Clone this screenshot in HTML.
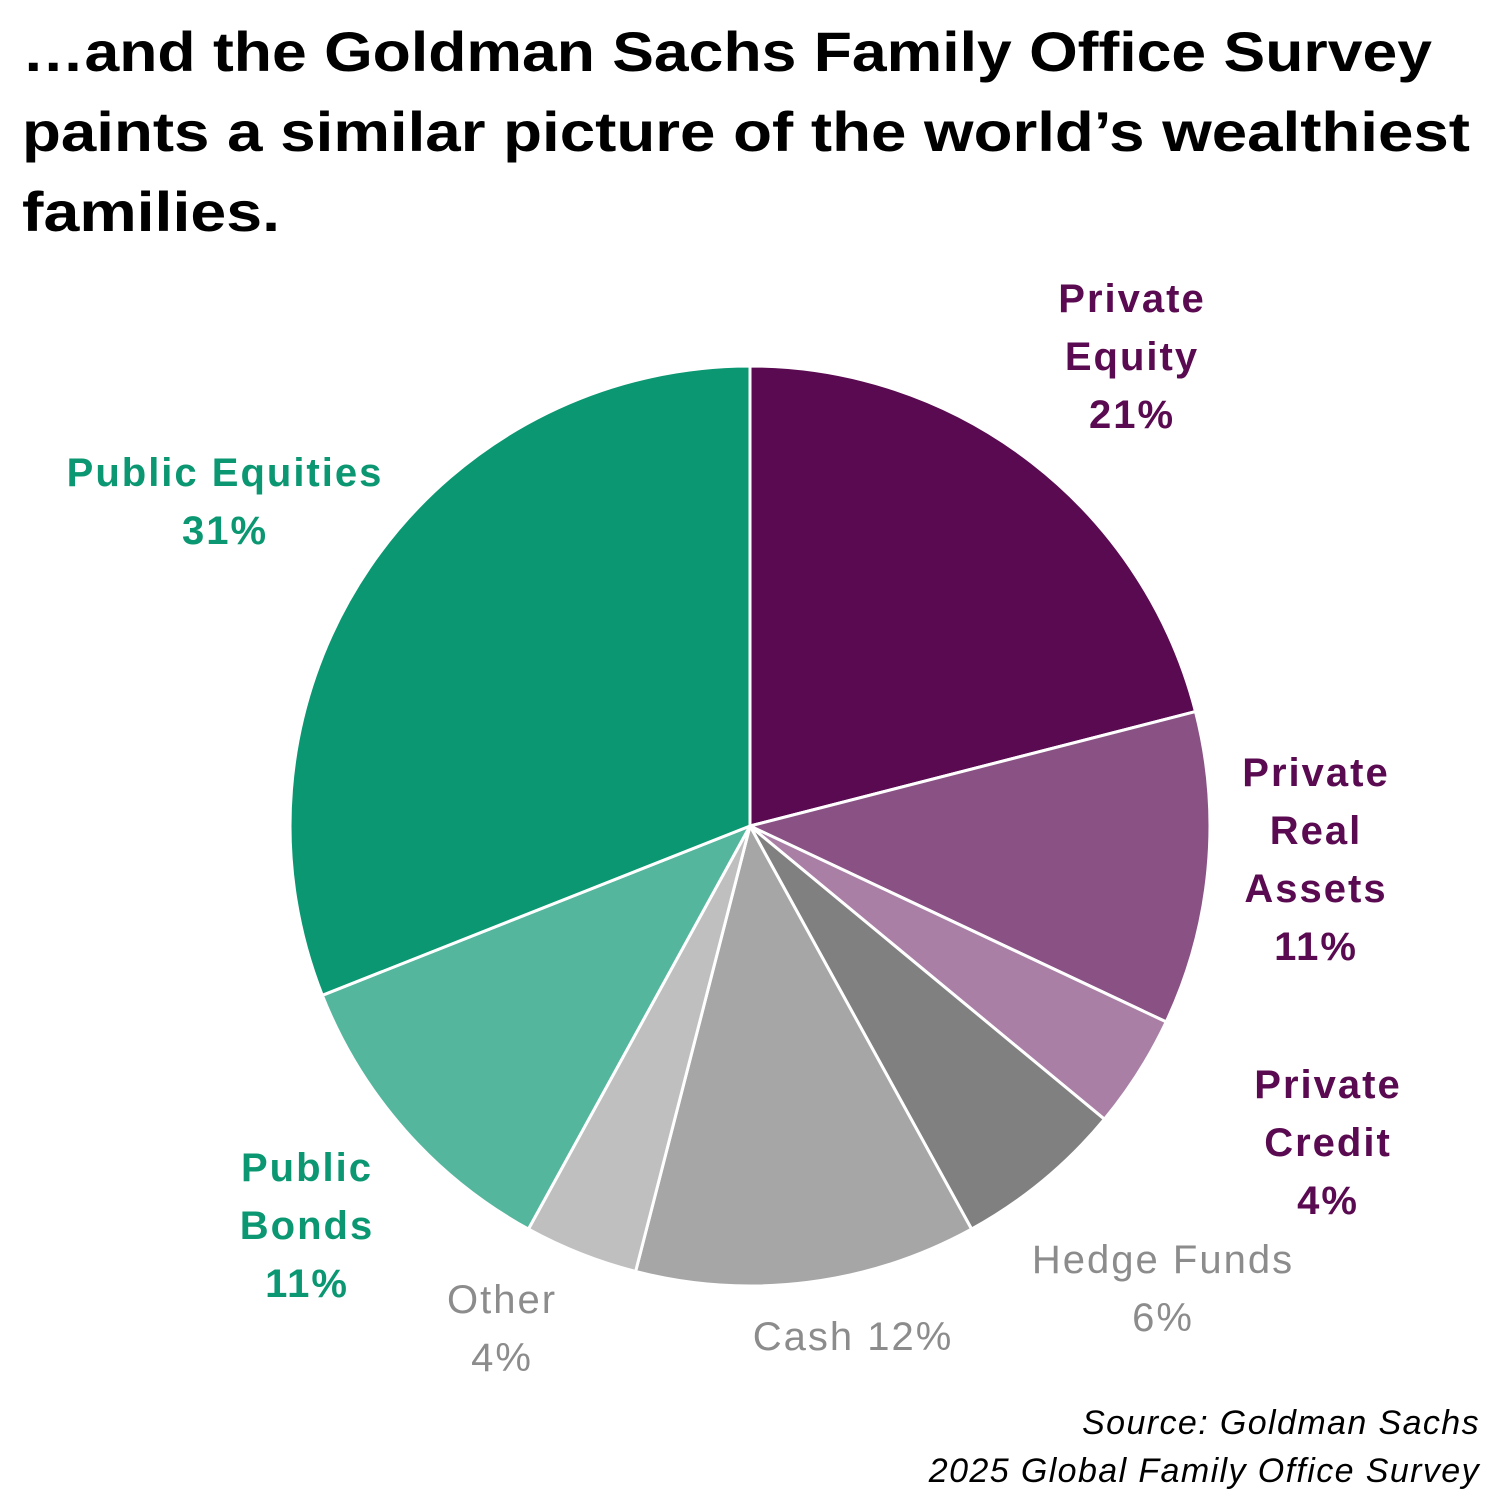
<!DOCTYPE html>
<html><head><meta charset="utf-8"><style>
html,body{margin:0;padding:0;background:#fff;}
svg{display:block;}
text{font-family:"Liberation Sans",sans-serif;}
</style></head><body>
<svg id="s" width="1501" height="1501" viewBox="0 0 1501 1501" xmlns="http://www.w3.org/2000/svg">
<g font-weight="bold" font-size="56" fill="#000">
<text x="22" y="71" textLength="1410" lengthAdjust="spacingAndGlyphs">…and the Goldman Sachs Family Office Survey</text>
<text x="22" y="151" textLength="1448" lengthAdjust="spacingAndGlyphs">paints a similar picture of the world’s wealthiest</text>
<text x="22" y="231" textLength="258" lengthAdjust="spacingAndGlyphs">families.</text>
</g>
<g id="pie"></g>
<g font-weight="bold" font-size="40" letter-spacing="2" text-anchor="middle">
<g fill="#5a0a50">
<text x="1132" y="312">Private</text><text x="1132" y="370">Equity</text><text x="1132" y="428">21%</text>
<text x="1316" y="786">Private</text><text x="1316" y="844">Real</text><text x="1316" y="902">Assets</text><text x="1316" y="960">11%</text>
<text x="1328" y="1098">Private</text><text x="1328" y="1156">Credit</text><text x="1328" y="1214">4%</text>
</g>
<g fill="#0b9771">
<text x="225" y="486">Public Equities</text><text x="225" y="544">31%</text>
<text x="307" y="1181">Public</text><text x="307" y="1239">Bonds</text><text x="307" y="1297">11%</text>
</g>
</g>
<g font-size="40" letter-spacing="2" text-anchor="middle" fill="#8c8c8c">
<text x="1163" y="1273">Hedge Funds</text><text x="1163" y="1331">6%</text>
<text x="853" y="1350">Cash 12%</text>
<text x="502" y="1313">Other</text><text x="502" y="1371">4%</text>
</g>
<g font-size="34" letter-spacing="1.4" font-style="italic" text-anchor="end" fill="#000">
<text x="1480" y="1434">Source: Goldman Sachs</text>
<text x="1480" y="1482">2025 Global Family Office Survey</text>
</g>
</svg>
<script>
var d=[[21,"#5a0a50"],[11,"#8a5185"],[4,"#a97fa6"],[6,"#808080"],[12,"#a6a6a6"],[4,"#bfbfbf"],[11,"#55b69e"],[31,"#0b9771"]];
var cx=750,cy=826,r=460,a=0,h="";
function p(t){return [cx+r*Math.sin(t),cy-r*Math.cos(t)];}
d.forEach(function(s){var a0=a/100*2*Math.PI;a+=s[0];var a1=a/100*2*Math.PI;
var P=p(a0),Q=p(a1);var l=s[0]>50?1:0;
h+='<path d="M'+cx+','+cy+'L'+P[0].toFixed(1)+','+P[1].toFixed(1)+'A'+r+','+r+' 0 '+l+' 1 '+Q[0].toFixed(1)+','+Q[1].toFixed(1)+'Z" fill="'+s[1]+'" stroke="#fff" stroke-width="3" stroke-linejoin="round"/>';});
document.getElementById("pie").innerHTML=h;
</script>
</body></html>
